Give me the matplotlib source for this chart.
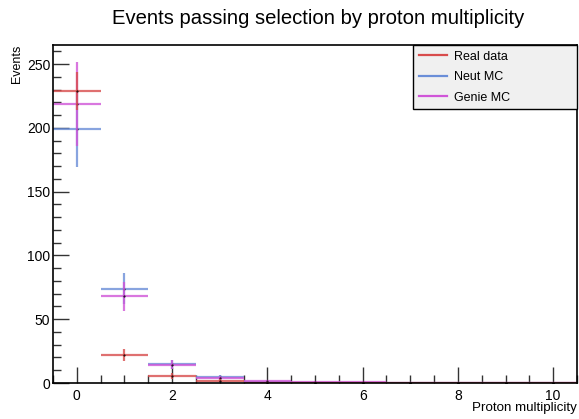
import matplotlib
matplotlib.use('Agg')
import matplotlib.pyplot as plt
from matplotlib.lines import Line2D
from matplotlib.ticker import MultipleLocator

matplotlib.rcParams['font.family'] = ['Liberation Sans', 'DejaVu Sans']

# proton multiplicity bins (centres)
bins = [0, 1, 2, 3, 4, 5, 6, 7, 8, 9, 10]

real = [229, 22, 5.7, 1.8, 0, 0, 0, 0, 0, 0, 0]
real_err = [15, 4.7, 2.4, 1.3, 0, 0, 0, 0, 0, 0, 0]

neut = [199, 74, 14.8, 4.9, 0.8, 0.2, 0.2, 0, 0, 0, 0]
neut_err = [30, 12, 3.5, 1.6, 0.6, 0.2, 0.2, 0, 0, 0, 0]

genie = [219, 68, 14.5, 4.0, 1.5, 0.8, 0.6, 0, 0, 0, 0]
genie_err = [33, 11.5, 3.5, 1.5, 0.8, 0.5, 0.4, 0, 0, 0, 0]

C_REAL = '#d84c4c'
C_NEUT = '#6a8ed8'
C_GENIE = '#d055d8'

fig = plt.figure(figsize=(5.79, 4.19), dpi=100)
ax = fig.add_axes([53 / 579, 1 - 383 / 419, (577 - 53) / 579, (383 - 45) / 419])

for vals, errs, col in [(neut, neut_err, C_NEUT),
                        (genie, genie_err, C_GENIE),
                        (real, real_err, C_REAL)]:
    ax.errorbar(bins, vals, xerr=0.5, yerr=errs, fmt='none', ecolor=col,
                elinewidth=1.6, alpha=0.8, capsize=0)
    ax.plot(bins, vals, linestyle='none', marker='.', markersize=1,
            color='black')

ax.set_xlim(-0.5, 10.5)
ax.set_ylim(0, 265)
ax.xaxis.set_major_locator(MultipleLocator(2))
ax.xaxis.set_minor_locator(MultipleLocator(0.5))
ax.yaxis.set_major_locator(MultipleLocator(50))
ax.yaxis.set_minor_locator(MultipleLocator(10))
ax.tick_params(which='both', direction='in', top=False, right=False,
               labelsize=10, color='#333333')
ax.tick_params(which='major', length=11.5, width=1)
ax.tick_params(which='minor', length=5.8, width=1)
ax.tick_params(axis='x', pad=4)
ax.tick_params(axis='y', pad=2)
for s in ax.spines.values():
    s.set_linewidth(1.2)

fig.text(318 / 579, 1 - 19 / 419, 'Events passing selection by proton multiplicity',
         ha='center', va='center', fontsize=14.6)
fig.text(17 / 579, 1 - 45 / 419, 'Events', rotation=90, ha='center',
         va='top', fontsize=9)
fig.text(577 / 579, 1 - 408 / 419, 'Proton multiplicity', ha='right',
         va='center', fontsize=9.6)

handles = [Line2D([], [], color=C_REAL, lw=1.6),
           Line2D([], [], color=C_NEUT, lw=1.6),
           Line2D([], [], color=C_GENIE, lw=1.6)]
x0 = (413 - 53) / (577 - 53)
leg = ax.legend(handles, ['Real data', 'Neut MC', 'Genie MC'],
                loc='upper left', bbox_to_anchor=(x0, 1.0, 1 - x0, 0),
                mode='expand', fontsize=9, fancybox=False, framealpha=1,
                facecolor='#f0f0f0', edgecolor='black', handlelength=2.3,
                handletextpad=0.55, borderaxespad=0, borderpad=0.45,
                labelspacing=0.68)
leg.get_frame().set_linewidth(1.0)

fig.savefig('out.png', dpi=100)
